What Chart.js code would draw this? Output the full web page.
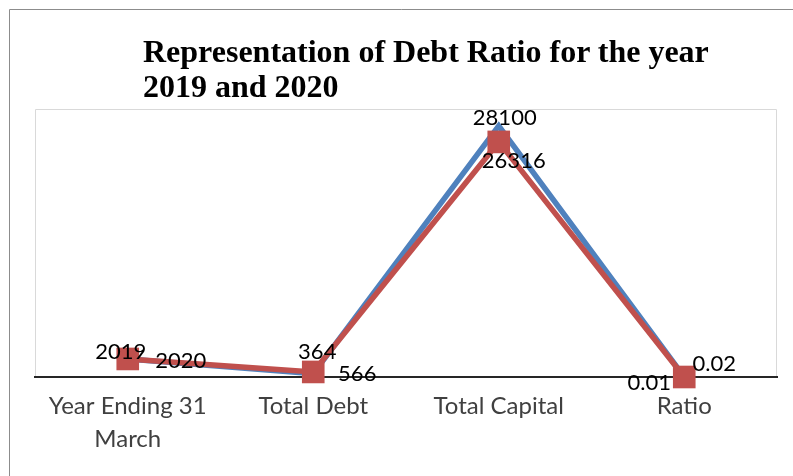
<!DOCTYPE html>
<html>
<head>
<meta charset="utf-8">
<script src="https://cdn.jsdelivr.net/npm/chart.js@4.4.1/dist/chart.umd.min.js"></script>
<style>
  html, body { margin: 0; padding: 0; background: #fff; }
  #wrap { position: relative; width: 793px; height: 476px; }
  #title {
    position: absolute; left: 143px; top: 34px;
    font: bold 32px "Liberation Serif", "Times New Roman", serif;
    line-height: 35px; color: #000; white-space: nowrap;
  }
  canvas { position: absolute; left: 0; top: 0; }
</style>
</head>
<body>
<div id="wrap">
  <canvas id="chart" width="793" height="476"></canvas>
  <div id="title">Representation of Debt Ratio for the year<br>2019 and 2020</div>
</div>
<script>
// ── Data ──────────────────────────────────────────────────────────────────────
const categories = [["Year Ending 31", "March"], "Total Debt", "Total Capital", "Ratio"];
const values2019 = [2019, 364, 28100, 0.01];
const values2020 = [2020, 566, 26316, 0.02];
const labels2019 = ["2019", "364", "28100", "0.01"];
const labels2020 = ["2020", "566", "26316", "0.02"];

// label placement relative to each point (px)
const offsets2019 = [[-7, -7], [4, -22], [6, -8], [-35, 6]];
const offsets2020 = [[53, 2], [44, 2], [15, 19], [30, -13]];

const FONT = "Lato, 'Open Sans', sans-serif";

// ── Frame: outer border + plot area box ───────────────────────────────────────
const framePlugin = {
  id: "frame",
  beforeDraw(chart) {
    const { ctx, chartArea: a } = chart;
    ctx.save();
    ctx.strokeStyle = "#8c8c8c";
    ctx.lineWidth = 1;
    ctx.beginPath();
    ctx.moveTo(9.5, 480);
    ctx.lineTo(9.5, 9.5);
    ctx.lineTo(800, 9.5);
    ctx.stroke();

    ctx.strokeStyle = "#d9d9d9";
    ctx.beginPath();
    ctx.moveTo(a.left + 0.5, a.bottom);
    ctx.lineTo(a.left + 0.5, a.top + 0.5);
    ctx.lineTo(a.right - 0.5, a.top + 0.5);
    ctx.lineTo(a.right - 0.5, a.bottom);
    ctx.stroke();
    ctx.restore();
  }
};

// ── Value labels next to the points ───────────────────────────────────────────
const valueLabels = {
  id: "valueLabels",
  afterDatasetsDraw(chart) {
    const { ctx } = chart;
    ctx.save();
    ctx.font = "22px " + FONT;
    ctx.fillStyle = "#000";
    ctx.textAlign = "center";
    ctx.textBaseline = "middle";
    chart.data.datasets.forEach((ds, di) => {
      const meta = chart.getDatasetMeta(di);
      meta.data.forEach((pt, i) => {
        const [dx, dy] = ds.labelOffsets[i];
        ctx.fillText(ds.valueText[i], pt.x + dx, pt.y + dy);
      });
    });
    ctx.restore();
  }
};

new Chart(document.getElementById("chart"), {
  type: "line",
  data: {
    labels: categories,
    datasets: [
      {
        label: "2019",
        data: values2019,
        valueText: labels2019,
        labelOffsets: offsets2019,
        borderColor: "#4F81BD",
        backgroundColor: "#4F81BD",
        borderWidth: 5.5,
        pointRadius: 0,
        tension: 0,
        clip: false,
        order: 2,
      },
      {
        label: "2020",
        data: values2020,
        valueText: labels2020,
        labelOffsets: offsets2020,
        borderColor: "#C0504D",
        backgroundColor: "#C0504D",
        borderWidth: 5.5,
        pointStyle: "rect",
        pointRadius: 16,
        pointBorderWidth: 0,
        tension: 0,
        clip: false,
        order: 1,
      }
    ]
  },
  options: {
    responsive: false,
    animation: false,
    layout: { padding: { left: 35, right: 14, top: 109, bottom: 0 } },
    scales: {
      x: {
        offset: true,
        grid: { display: false, drawTicks: false },
        border: { display: true, color: "#262626", width: 2 },
        ticks: {
          color: "#404040",
          font: { family: FONT, size: 24, lineHeight: 1.4 },
          padding: 12,
          maxRotation: 0,
          autoSkip: false,
        },
        afterFit(scale) { scale.height = 99; }
      },
      y: { display: false, min: 0, max: 30000 }
    },
    plugins: {
      legend: { display: false },
      tooltip: { enabled: false },
      title: { display: false }
    }
  },
  plugins: [framePlugin, valueLabels]
});
</script>
</body>
</html>
